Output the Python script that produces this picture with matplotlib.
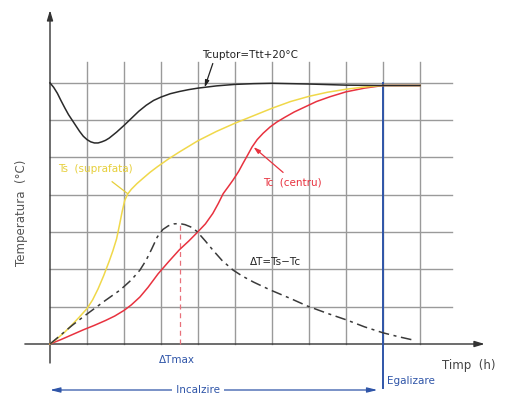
import matplotlib
matplotlib.use("Agg")
import matplotlib.pyplot as plt

# ---- data (hours, temperature in grid units) ----
t_cuptor_x = [0, 0.1, 0.2, 0.3, 0.4, 0.5, 0.6, 0.7, 0.8, 0.9, 1.0, 1.1, 1.2, 1.3, 1.4, 1.5, 1.6, 1.7, 1.8, 1.9, 2.0, 2.2, 2.4, 2.6, 2.8, 3.0, 3.25, 3.5, 3.75, 4.0, 4.5, 5.0, 5.5, 6.0, 7.0, 8.0, 9.0, 10.0]
t_cuptor_y = [7.0, 6.88, 6.72, 6.52, 6.33, 6.15, 6.0, 5.85, 5.7, 5.57, 5.48, 5.42, 5.39, 5.39, 5.42, 5.46, 5.52, 5.6, 5.68, 5.77, 5.86, 6.05, 6.24, 6.4, 6.53, 6.62, 6.71, 6.77, 6.82, 6.86, 6.92, 6.96, 6.98, 6.99, 6.97, 6.94, 6.93, 6.93]

ts_x = [0, 0.2, 0.4, 0.6, 0.8, 1.0, 1.15, 1.3, 1.45, 1.6, 1.7, 1.8, 1.88, 1.95, 2.02, 2.1, 2.2, 2.35, 2.5, 2.7, 2.9, 3.2, 3.5, 4.0, 4.5, 5.0, 5.5, 6.0, 6.5, 7.0, 7.5, 8.0, 8.5, 9.0, 10.0]
ts_y = [0, 0.15, 0.32, 0.52, 0.73, 0.95, 1.18, 1.48, 1.83, 2.22, 2.5, 2.82, 3.2, 3.55, 3.85, 4.02, 4.15, 4.3, 4.43, 4.6, 4.75, 4.96, 5.15, 5.45, 5.7, 5.92, 6.12, 6.32, 6.5, 6.64, 6.75, 6.83, 6.89, 6.93, 6.93]

tc_x = [0, 0.3, 0.6, 0.9, 1.2, 1.5, 1.75, 2.0, 2.2, 2.43, 2.65, 2.92, 3.2, 3.5, 3.75, 3.97, 4.2, 4.4, 4.55, 4.68, 4.82, 4.95, 5.1, 5.22, 5.35, 5.46, 5.6, 5.76, 5.95, 6.13, 6.35, 6.6, 6.9, 7.2, 7.57, 8.0, 8.5, 9.0, 10.0]
tc_y = [0, 0.12, 0.25, 0.38, 0.5, 0.63, 0.75, 0.9, 1.05, 1.26, 1.52, 1.88, 2.2, 2.53, 2.76, 2.98, 3.22, 3.5, 3.77, 4.03, 4.22, 4.4, 4.63, 4.85, 5.08, 5.28, 5.48, 5.65, 5.82, 5.95, 6.08, 6.22, 6.36, 6.5, 6.63, 6.76, 6.86, 6.93, 6.93]

dt_x = [0, 0.3, 0.6, 0.9, 1.2, 1.5, 1.9, 2.2, 2.43, 2.6, 2.75, 2.9, 3.05, 3.2, 3.35, 3.5, 3.65, 3.8, 3.97, 4.2, 4.4, 4.65, 4.95, 5.2, 5.5, 5.95, 6.5, 6.95, 7.5, 8.03, 8.5, 9.0, 9.4, 9.8]
dt_y = [0, 0.25, 0.5, 0.73, 0.95, 1.17, 1.45, 1.72, 1.98, 2.25, 2.55, 2.87, 3.07, 3.17, 3.22, 3.23, 3.2, 3.14, 3.02, 2.76, 2.52, 2.24, 1.98, 1.82, 1.66, 1.45, 1.22, 1.02, 0.82, 0.64, 0.46, 0.3, 0.2, 0.11]

dt_max_x = 3.5
dt_max_y = 3.23
t_egal = 9.0
grid_x = [1, 2, 3, 4, 5, 6, 7, 8, 9, 10]
grid_y = [1, 2, 3, 4, 5, 6, 7]

# ---- figure: axes fill the figure, data units map to pixels ----
W, H = 506, 397
fig = plt.figure(figsize=(W / 100, H / 100), dpi=100)
ax = fig.add_axes([0, 0, 1, 1])
x0px, y0px, sx, sy = 50.0, 344.0, 37.0, 37.3
ax.set_xlim(-x0px / sx, (W - x0px) / sx)
ax.set_ylim(-(H - y0px) / sy, y0px / sy)
ax.axis("off")

gcol = "#9a9a9a"
for gx in grid_x:
    ax.plot([gx, gx], [0, 7.56], color=gcol, lw=1.0, zorder=1)
for gy in grid_y:
    ax.plot([0, 10.86], [gy, gy], color=gcol, lw=1.0, zorder=1)

# axes with arrows
ax.annotate("", xy=(11.75, 0), xytext=(-0.68, 0),
            arrowprops=dict(arrowstyle="-|>,head_length=0.6,head_width=0.18", color="#333333", lw=1.0, shrinkA=0, shrinkB=0), zorder=2)
ax.annotate("", xy=(0, 8.95), xytext=(0, -0.51),
            arrowprops=dict(arrowstyle="-|>,head_length=0.6,head_width=0.18", color="#333333", lw=1.0, shrinkA=0, shrinkB=0), zorder=2)

blue = "#2f55a8"
ax.plot([t_egal, t_egal], [7.0, -1.18], color=blue, lw=1.4, zorder=3)

# curves
ax.plot(tc_x, tc_y, color="#e8323f", lw=1.1, zorder=4, solid_joinstyle="round")
ax.plot(ts_x, ts_y, color="#f0d84a", lw=1.1, zorder=4, solid_joinstyle="round")
ax.plot(t_cuptor_x, t_cuptor_y, color="#2a2a2a", lw=1.1, zorder=5, solid_joinstyle="round")
ax.plot(dt_x, dt_y, color="#3a3a3a", lw=1.1, dashes=(7, 3, 2, 3), zorder=4)
ax.plot([dt_max_x, dt_max_x], [0, dt_max_y], color="#e8707a", lw=0.9, dashes=(4, 3), zorder=3)

fs = 7.5
# labels with pointers
ax.text(4.1, (y0px - 55) / sy, "Tcuptor=Ttt+20°C", fontsize=fs, color="#222222", va="center", ha="left")
ax.annotate("", xy=(4.18, 6.88), xytext=(4.4, 7.52),
            arrowprops=dict(arrowstyle="-|>,head_length=0.4,head_width=0.12", color="#222222", lw=0.9, shrinkA=0, shrinkB=0))

ax.text(0.22, (y0px - 169) / sy, "Ts  (suprafata)", fontsize=fs, color="#e6cf3a", va="center", ha="left")
ax.plot([1.68, 2.1], [4.35, 4.03], color="#e6cf3a", lw=0.9)

ax.text(5.75, (y0px - 183) / sy, "Tc  (centru)", fontsize=fs, color="#e8323f", va="center", ha="left")
ax.annotate("", xy=(5.5, 5.28), xytext=(6.3, 4.6),
            arrowprops=dict(arrowstyle="-|>,head_length=0.4,head_width=0.12", color="#e8323f", lw=0.9, shrinkA=0, shrinkB=0))

ax.text(5.4, (y0px - 262) / sy, "ΔT=Ts−Tc", fontsize=fs, color="#222222", va="center", ha="left")

ax.text(3.43, (y0px - 360) / sy, "ΔTmax", fontsize=fs, color=blue, va="center", ha="center")
ax.text(4.0, (y0px - 390) / sy, " Incalzire ", fontsize=fs, color=blue, va="center", ha="center",
        bbox=dict(facecolor="white", edgecolor="none", pad=0.5), zorder=6)
ax.annotate("", xy=(0.0, (y0px - 390) / sy), xytext=(t_egal - 0.15, (y0px - 390) / sy),
            arrowprops=dict(arrowstyle="<|-|>,head_length=0.6,head_width=0.15", color=blue, lw=0.9, shrinkA=0, shrinkB=0), zorder=5)
ax.text(9.1, (y0px - 381) / sy, "Egalizare", fontsize=fs, color=blue, va="center", ha="left")

ax.text(10.6, (y0px - 365) / sy, "Timp  (h)", fontsize=8.5, color="#444444", va="center", ha="left")
ax.text(-0.78, (y0px - 213) / sy, "Temperatura  (°C)", fontsize=8.5, color="#555555", va="center", ha="center", rotation=90)

fig.savefig("out.png", dpi=100)
